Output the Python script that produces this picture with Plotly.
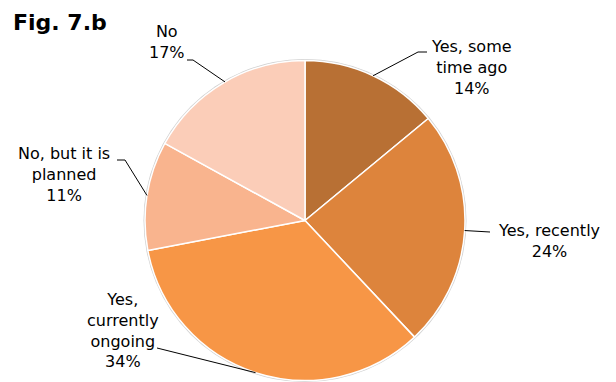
import math
import plotly.graph_objects as go

# Survey answers, clockwise from 12 o'clock
categories = ["Yes, some<br>time ago", "Yes, recently", "Yes,<br>currently<br>ongoing",
              "No, but it is<br>planned", "No"]
shares = [14, 24, 34, 11, 17]
colors = ["#B87034", "#DD843C", "#F79646", "#F9B48E", "#FBCDB8"]

W, H = 616, 382
CX, CY, R = 305, 220.5, 160  # pie centre and radius in pixels

# label text centre (px) and leader-line elbow (px)
label_pos = [(471, 67), (549, 241), (123, 330), (64, 175), (167, 42)]
elbows = [[(427, 52), (418, 52)], [(490, 232)], [(157, 348)], [(117, 160), (125, 160)],
          [(187, 60), (193, 60)]]
# angle (deg, clockwise from top) where each leader meets the pie edge; None = slice middle
anchor_override = [None, None, None, None, 330]


def px(x, y):
    return x / W, 1 - y / H


fig = go.Figure(go.Pie(
    labels=[c.replace("<br>", " ") for c in categories],
    values=shares,
    sort=False,
    direction="clockwise",
    rotation=0,
    marker=dict(colors=colors, line=dict(color="white", width=1.5)),
    textinfo="none",
    hoverinfo="label+percent",
    showlegend=False,
    domain=dict(x=[(CX - R) / W, (CX + R) / W], y=[(H - CY - R) / H, (H - CY + R) / H]),
))

shapes = []
# faint grey rim around the pie
x0, y0 = px(CX - R - 1.5, CY + R + 1.5)
x1, y1 = px(CX + R + 1.5, CY - R - 1.5)
shapes.append(dict(type="circle", xref="paper", yref="paper", x0=x0, y0=y0, x1=x1, y1=y1,
                   line=dict(width=0), fillcolor="#D0D0D0", layer="below"))

total = sum(shares)
cum = 0
annotations = []
for i, (cat, v) in enumerate(zip(categories, shares)):
    mid = (cum + v / 2) / total * 360
    cum += v
    ang = anchor_override[i] if anchor_override[i] is not None else mid
    ex = CX + R * math.sin(math.radians(ang))
    ey = CY - R * math.cos(math.radians(ang))
    pts = elbows[i] + [(ex, ey)]
    path = "M " + " L ".join(f"{px(a, b)[0]},{px(a, b)[1]}" for a, b in pts)
    shapes.append(dict(type="path", xref="paper", yref="paper", path=path,
                       line=dict(color="black", width=1), layer="above"))
    lx, ly = px(*label_pos[i])
    annotations.append(dict(x=lx, y=ly, xref="paper", yref="paper", showarrow=False,
                            text=f"{cat}<br>{v}%", align="center",
                            font=dict(family="DejaVu Sans", size=16, color="black"),
                            xanchor="center", yanchor="middle"))

annotations.append(dict(x=11 / W, y=1 - 22 / H, xref="paper", yref="paper", showarrow=False,
                        text="<b>Fig. 7.b</b>", xanchor="left", yanchor="middle",
                        font=dict(family="DejaVu Sans", size=22, color="black")))

fig.update_layout(width=W, height=H, margin=dict(l=0, r=0, t=0, b=0),
                  paper_bgcolor="white", plot_bgcolor="white",
                  shapes=shapes, annotations=annotations)

fig.write_html("out.html")
